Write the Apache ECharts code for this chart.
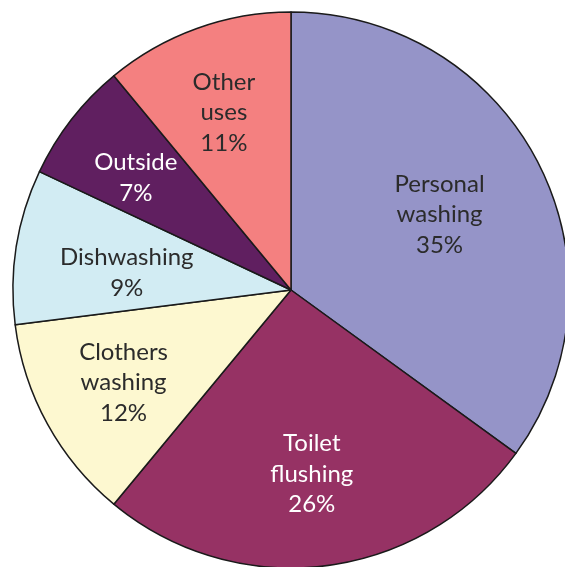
<!DOCTYPE html>
<html>
<head>
<meta charset="utf-8">
<script src="https://cdn.jsdelivr.net/npm/echarts@6/dist/echarts.min.js"></script>
<style>
  html, body { margin: 0; padding: 0; background: #fff; }
  #chart { width: 565px; height: 567px; }
</style>
</head>
<body>
<div id="chart"></div>
<script>
// 家庭用水分布（百分比）
const categories = ['Personal\nwashing', 'Toilet\nflushing', 'Clothers\nwashing', 'Dishwashing', 'Outside', 'Other\nuses']
const shares = [35, 26, 12, 9, 7, 11]

const sliceColors = ['#9594c8', '#963264', '#fdf8d0', '#d2ecf3', '#601f60', '#f48080']
const textColors = ['#2b2b2b', '#ffffff', '#2b2b2b', '#2b2b2b', '#ffffff', '#2b2b2b']
// 标签相对默认 inside 位置的偏移
const labelOffsets = [[22, -11], [3, 43], [-43, 24], [-24, 5], [-43, -25], [-19, -44]]

const chart = echarts.init(document.getElementById('chart'))

const option = {
  animation: false,
  series: [
    {
      type: 'pie',
      center: [291, 290],
      radius: [0, 278],
      startAngle: 90,
      clockwise: true,
      silent: true,
      itemStyle: {
        borderColor: '#1a1a1a',
        borderWidth: 1.5
      },
      label: {
        show: true,
        position: 'inside',
        formatter: '{b}\n{c}%',
        fontFamily: 'Lato',
        fontSize: 24,
        lineHeight: 30.5,
        align: 'center'
      },
      labelLine: { show: false },
      data: categories.map((name, i) => ({
        name: name,
        value: shares[i],
        itemStyle: { color: sliceColors[i] },
        label: { color: textColors[i], offset: labelOffsets[i] }
      }))
    }
  ]
}
chart.setOption(option)
</script>
</body>
</html>
